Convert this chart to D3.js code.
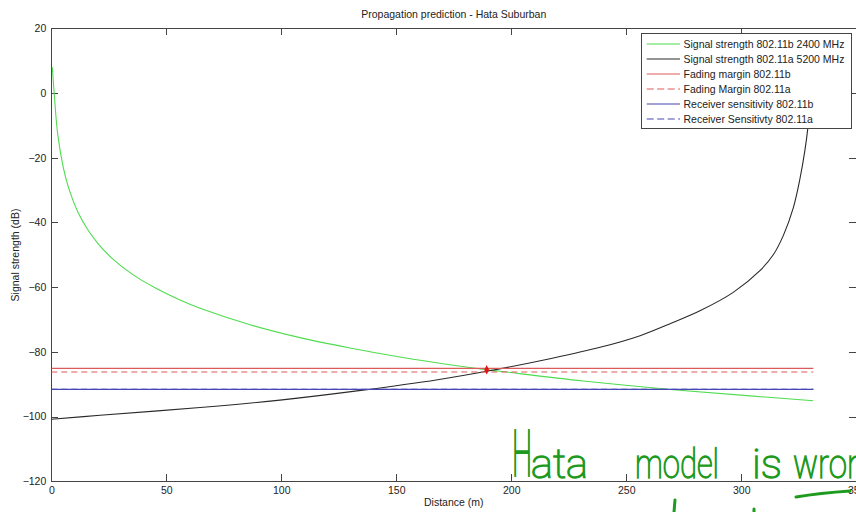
<!DOCTYPE html>
<html lang="en">
<head>
  <meta charset="utf-8">
  <script src="https://d3js.org/d3.v7.min.js"></script>
  <style>
    body, html {
      margin: 0;
      padding: 0;
      background: #fff;
    }
    text {
      font-family: "Liberation Sans", Arial, sans-serif;
      font-size: 10.5px;
      fill: #222;
    }
    .axis path, .axis line {
      stroke: #444;
      shape-rendering: crispEdges;
    }
    .line {
      fill: none;
      stroke-width: 1.1px;
    }
    .hand {
      font-family: Roboto, Inter, sans-serif;
      font-weight: 100;
      fill: #1e9a1e;
      stroke: #1e9a1e;
      stroke-width: 1.3px;
    }
  </style>
</head>
<body>
<svg id="chart" width="856" height="512"></svg>

<script>
    // Distance (m) and signal strength (dB)
    var greenDist = [0.45, 1.3, 2.8, 5.2, 7.4, 11.7, 16.1, 20.4, 26.3, 35, 45.1, 56.7, 64.7, 86.4, 108.1, 129.9, 151.6, 173.3, 189, 195.1, 231.3, 270.4, 303.8, 331.3];
    var greenVal  = [8, -0.5, -12.8, -23, -29, -37, -42.5, -46.6, -51, -55.9, -60.2, -64.2, -66.5, -71.6, -75.6, -78.8, -81.6, -84, -85.5, -86.0, -89.0, -91.7, -93.6, -95.1];

    var blackDist = [0, 21.2, 64.7, 99.4, 134.6, 168, 189.3, 216.8, 238.6, 256, 270, 282, 296.5, 308.1, 313.9, 318.3, 322.6, 325.5, 327.7, 328.9, 330.2, 331.3];
    var blackVal  = [-100.8, -99.6, -97.2, -94.9, -91.9, -88.6, -86.0, -82.1, -78.6, -75.0, -71.0, -67.3, -61.6, -54.9, -50.0, -44.0, -35.5, -26.5, -17.5, -11, 0, 12];

    // horizontal levels: fading margin b, fading margin a, sensitivity b, sensitivity a
    var levelVal = [-85.1, -86.2, -91.6, -91.6];
    var levelDist = [0, 331.3];

    var markerDist = [189.3];
    var markerVal = [-85.6];

    var seriesNames = [
        "Signal strength 802.11b 2400 MHz",
        "Signal strength 802.11a 5200 MHz",
        "Fading margin 802.11b",
        "Fading Margin 802.11a",
        "Receiver sensitivity 802.11b",
        "Receiver Sensitivty 802.11a"
    ];
    var seriesColors = ["#4fdc4f", "#2a2a2a", "#dd5a5a", "#dd5a5a", "#4646b4", "#4646b4"];
    var seriesDash = [null, null, null, "6,4", null, "6,4"];

    var xTicks = [0, 50, 100, 150, 200, 250, 300, 350];
    var yTicks = [-120, -100, -80, -60, -40, -20, 0, 20];

    var pLeft = 51.3, pRight = 856.3, pTop = 28.3, pBottom = 481.3;

    var x = d3.scaleLinear().domain([0, 350]).range([pLeft, pRight]);
    var y = d3.scaleLinear().domain([-120, 20]).range([pBottom, pTop]);

    var svg = d3.select("#chart");

    svg.append("defs").append("clipPath").attr("id", "plot")
      .append("rect")
        .attr("x", pLeft).attr("y", pTop)
        .attr("width", pRight - pLeft).attr("height", pBottom - pTop);

    // axes on all four sides, ticks pointing in
    svg.append("g").attr("class", "axis")
        .attr("transform", "translate(0," + pBottom + ")")
        .call(d3.axisBottom(x).tickValues(xTicks).tickSize(-7).tickSizeOuter(0).tickPadding(5));
    svg.append("g").attr("class", "axis")
        .attr("transform", "translate(0," + pTop + ")")
        .call(d3.axisTop(x).tickValues(xTicks).tickSize(-7).tickSizeOuter(0).tickFormat(""));
    svg.append("g").attr("class", "axis")
        .attr("transform", "translate(" + pLeft + ",0)")
        .call(d3.axisLeft(y).tickValues(yTicks).tickSize(-7).tickSizeOuter(0).tickPadding(5));
    svg.append("g").attr("class", "axis")
        .attr("transform", "translate(" + pRight + ",0)")
        .call(d3.axisRight(y).tickValues(yTicks).tickSize(-7).tickSizeOuter(0).tickFormat(""));

    svg.selectAll(".axis text")
        .style("font-family", '"Liberation Sans", Arial, sans-serif')
        .style("font-size", "10.5px")
        .style("fill", "#222");

    var line = d3.line()
        .x(function(d) { return x(d[0]); })
        .y(function(d) { return y(d[1]); })
        .curve(d3.curveCatmullRom.alpha(0.5));

    var plot = svg.append("g").attr("clip-path", "url(#plot)");

    var lines = [
        d3.zip(greenDist, greenVal),
        d3.zip(blackDist, blackVal)
    ];
    levelVal.forEach(function(v) {
        lines.push(levelDist.map(function(d) { return [d, v]; }));
    });

    plot.selectAll(".line")
        .data(lines)
        .enter().append("path")
        .attr("class", "line")
        .attr("d", line)
        .style("stroke", function(d, i) { return seriesColors[i]; })
        .style("stroke-dasharray", function(d, i) { return seriesDash[i]; });

    // red marker at the crossing
    plot.selectAll(".marker")
        .data(d3.zip(markerDist, markerVal))
        .enter().append("path")
        .attr("class", "marker")
        .attr("transform", function(d) { return "translate(" + x(d[0]) + "," + y(d[1]) + ")"; })
        .attr("d", "M0,-5L2.4,0L0,4.5L-2.4,0Z")
        .style("fill", "#e81010");

    // legend
    var legend = svg.append("g");
    legend.append("rect")
        .attr("x", 641.7).attr("y", 33.3)
        .attr("width", 210).attr("height", 94.7)
        .style("fill", "#fff")
        .style("stroke", "#444")
        .style("shape-rendering", "crispEdges");

    var item = legend.selectAll(".item")
        .data(seriesNames)
        .enter().append("g")
        .attr("class", "item")
        .attr("transform", function(d, i) { return "translate(0," + (44 + i * 15) + ")"; });

    item.append("line")
        .attr("x1", 646.7).attr("x2", 680)
        .style("stroke", function(d, i) { return seriesColors[i]; })
        .style("stroke-width", "1.1px")
        .style("stroke-dasharray", function(d, i) { return seriesDash[i] ? "7,3.5" : null; });

    item.append("text")
        .attr("x", 683.5)
        .attr("dy", "0.35em")
        .text(function(d) { return d; });

    // titles
    svg.append("text")
        .attr("x", (pLeft + pRight) / 2).attr("y", 17.5)
        .style("text-anchor", "middle")
        .text("Propagation prediction - Hata Suburban");

    svg.append("text")
        .attr("x", (pLeft + pRight) / 2).attr("y", 506)
        .style("text-anchor", "middle")
        .text("Distance (m)");

    svg.append("text")
        .attr("transform", "translate(19,255) rotate(-90)")
        .style("text-anchor", "middle")
        .text("Signal strength (dB)");

    // handwritten note over the plot
    var words = ["ata", "model", "is", "wron"];
    var wordX = [531, 635, 752, 793];
    var wordLen = [57, 84, 30, 72];

    svg.append("text")
        .attr("class", "hand")
        .attr("x", 512).attr("y", 476)
        .style("font-size", "64px")
        .style("stroke-width", "2.2px")
        .attr("textLength", 20)
        .attr("lengthAdjust", "spacingAndGlyphs")
        .text("H");

    svg.selectAll(".word")
        .data(words)
        .enter().append("text")
        .attr("class", "hand word")
        .attr("x", function(d, i) { return wordX[i]; })
        .attr("y", 478)
        .style("font-size", "40px")
        .attr("textLength", function(d, i) { return wordLen[i]; })
        .attr("lengthAdjust", "spacingAndGlyphs")
        .text(function(d) { return d; });

    // pen strokes: underline and the top of a second line cut off below
    var strokes = ["M796,497 Q820,493 850,491", "M675,500 L674,512", "M754,509 L754,512"];
    svg.selectAll(".pen")
        .data(strokes)
        .enter().append("path")
        .attr("class", "pen")
        .attr("d", function(d) { return d; })
        .style("fill", "none")
        .style("stroke", "#1e9a1e")
        .style("stroke-width", "3px")
        .style("stroke-linecap", "round");
</script>
</body>
</html>
